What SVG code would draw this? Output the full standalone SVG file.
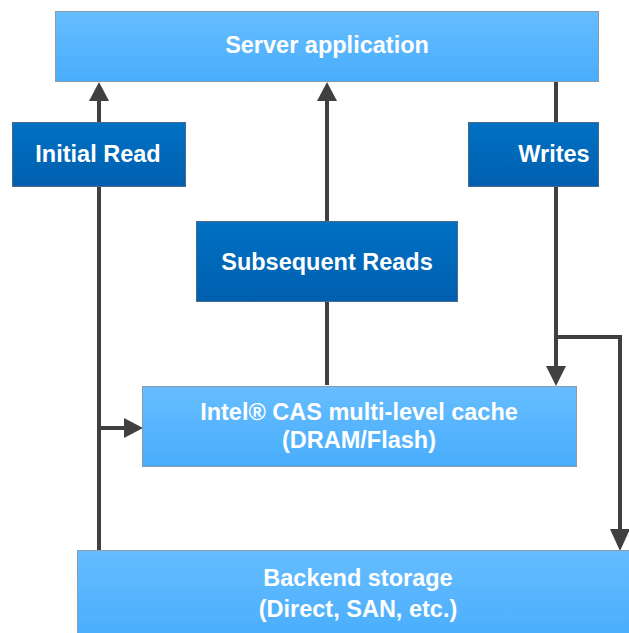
<svg xmlns="http://www.w3.org/2000/svg" width="629" height="633" viewBox="0 0 629 633">
<defs>
<linearGradient id="lb" x1="0" y1="0" x2="0" y2="1"><stop offset="0" stop-color="#66bdff"/><stop offset="1" stop-color="#49adfc"/></linearGradient>
<linearGradient id="db" x1="0" y1="0" x2="0" y2="1"><stop offset="0" stop-color="#0071c4"/><stop offset="1" stop-color="#005fae"/></linearGradient>
<style>
.light{fill:url(#lb);stroke:#8a9aa8;stroke-width:1}
.dark{fill:url(#db);stroke:#4a6a8a;stroke-width:1}
.t{font-family:"Liberation Sans",Arial,sans-serif;font-weight:bold;font-size:23.5px;fill:#fff;text-anchor:middle}
.c{stroke:#404040;stroke-width:4;fill:none}
.h{fill:#404040}
</style>
</defs>
<g id="connectors">
<line class="c" x1="99" y1="551" x2="99" y2="98"/>
<polygon class="h" points="99,82 89,101 109,101"/>
<line class="c" x1="327" y1="385" x2="327" y2="98"/>
<polygon class="h" points="327,82 317,101 337,101"/>
<line class="c" x1="99" y1="428" x2="126" y2="428"/>
<polygon class="h" points="143,428 124,418 124,438"/>
<polyline class="c" points="556,82 556,368"/>
<polygon class="h" points="556,386 546,366 566,366"/>
<polyline class="c" points="556,337 620,337 620,532"/>
<polygon class="h" points="620,551 610,529 630,529"/>
</g>
<g id="server"><rect class="light" x="55.5" y="11.5" width="543" height="70"/><text class="t" x="327" y="53">Server application</text></g>
<g id="initial-read"><rect class="dark" x="12.5" y="122.5" width="173" height="64"/><text class="t" x="98" y="162">Initial Read</text></g>
<g id="writes"><rect class="dark" x="468.5" y="122.5" width="130" height="64"/><text class="t" x="554" y="162">Writes</text></g>
<g id="subsequent-reads"><rect class="dark" x="196.5" y="221.5" width="261" height="80"/><text class="t" x="327" y="270">Subsequent Reads</text></g>
<g id="cache"><rect class="light" x="142.5" y="386.5" width="434" height="80"/><text class="t" x="359" y="420">Intel® CAS multi-level cache</text><text class="t" x="359" y="448">(DRAM/Flash)</text></g>
<g id="backend"><rect class="light" x="77.5" y="550.5" width="562" height="90"/><text class="t" x="358" y="586">Backend storage</text><text class="t" x="358" y="617">(Direct, SAN, etc.)</text></g>
</svg>
